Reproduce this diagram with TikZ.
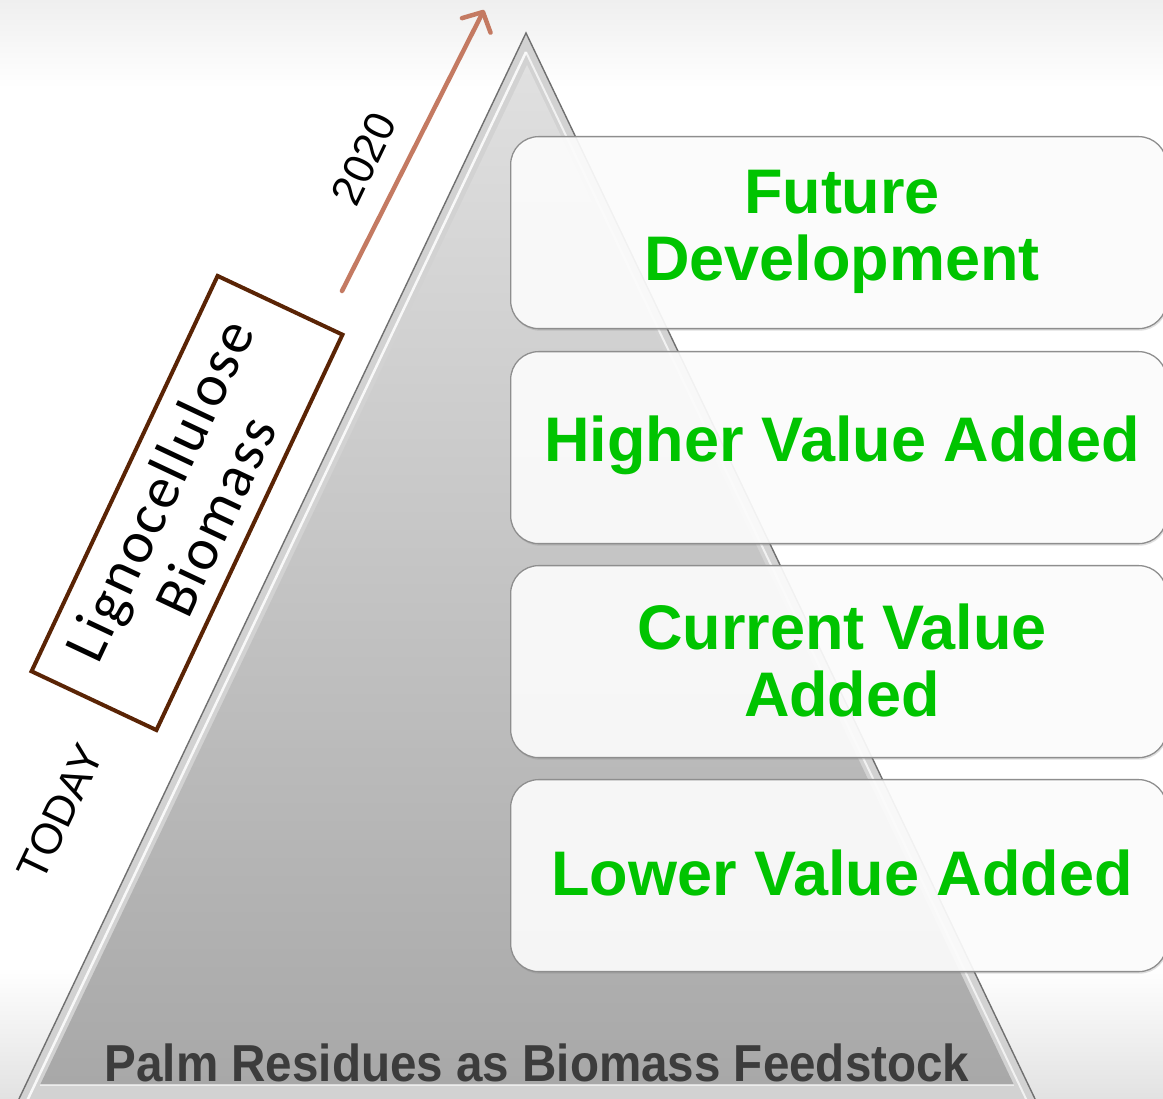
\documentclass[tikz,border=0pt]{standalone}
\usepackage{fontspec}
\setmainfont{Liberation Sans}
\newfontfamily\calibfont{Carlito}[LetterSpace=4]
\usetikzlibrary{arrows.meta,shadows}
\definecolor{bgtop}{HTML}{EFEFEF}
\definecolor{bgbot}{HTML}{E2E2E2}
\definecolor{pyrout}{HTML}{D2D2D2}
\definecolor{pyredge}{HTML}{707070}
\definecolor{pyrtop}{HTML}{E0E0E0}
\definecolor{pyrbot}{HTML}{A8A8A8}
\definecolor{boxedge}{HTML}{8E8E8E}
\definecolor{greentxt}{HTML}{00C400}
\definecolor{basetxt}{HTML}{3C3C3C}
\definecolor{ligbrown}{RGB}{90,36,5}
\definecolor{arrowcol}{RGB}{196,122,98}
\pgfdeclareverticalshading{bgshade}{100bp}{color(0bp)=(bgbot); color(25bp)=(bgbot); color(31bp)=(white); color(71bp)=(white); color(75bp)=(bgtop); color(100bp)=(bgtop)}
\tikzset{
  valbox/.style={rounded corners=28pt, fill=white, fill opacity=0.9, draw=boxedge, line width=1.3pt,
    minimum width=656pt, minimum height=192pt, anchor=north west, inner sep=0pt,
    drop shadow={shadow xshift=1pt, shadow yshift=-2pt, opacity=0.25}},
  valtxt/.style={text=greentxt, align=center, font=\bfseries\fontsize{63}{67}\selectfont, inner sep=0pt},
  ligbox/.style={draw=ligbrown, line width=4pt, fill=white, minimum width=437pt, minimum height=138pt,
    rotate=64.8, align=center, inner sep=0pt, font=\calibfont\fontsize{59}{62}\selectfont},
  sidetxt/.style={rotate=64.5, inner sep=0pt, font=\fontsize{43}{43}\selectfont},
  timearrow/.style={draw=arrowcol, line width=4.5pt, line cap=round,
    -{Straight Barb[length=15pt,width=32pt,line width=4.5pt,round]}},
  basetext/.style={text=basetxt, font=\bfseries\fontsize{52}{52}\selectfont, inner sep=0pt, xscale=0.915, anchor=base}
}
\begin{document}
\begin{tikzpicture}[x=1pt,y=1pt]
\useasboundingbox (0,0) rectangle (1163,1099);
\clip (0,0) rectangle (1163,1099);
% background
\shade[shading=bgshade] (0,0) rectangle (1163,1099);
% pyramid
\filldraw[fill=pyrout, draw=pyredge, line width=1.4pt] (18,-2) -- (526,1066) -- (1036,-2) -- cycle;
\draw[white, line width=2.5pt, opacity=0.85] (27,-2) -- (526,1047);
\draw[white, line width=2pt, opacity=0.7] (526,1047) -- (1027,-2);
\shade[top color=pyrtop, bottom color=pyrbot] (40,14) -- (527,1034) -- (1014,14) -- cycle;
\draw[white, line width=1.5pt, opacity=0.6] (40,14) -- (1014,14);
% value boxes
\node[valbox] (b1) at (510,963) {};
\node[valbox] (b2) at (510,748) {};
\node[valbox] (b3) at (510,534) {};
\node[valbox] (b4) at (510,320) {};
% value texts
\node[valtxt] (t1) at (842,867) {Future\\Development};
\node[valtxt] (t2) at (842,654) {Higher Value Added};
\node[valtxt] (t3) at (842,439) {Current Value\\Added};
\node[valtxt] (t4) at (842,226) {Lower Value Added};
% base label
\node[basetext] (bt) at (537,17) {Palm Residues as Biomass Feedstock};
% left side
\node[ligbox] (lig) at (187,596) {Lignocellulose\\Biomass};
\node[sidetxt] (today) at (60,287) {TODAY};
\node[sidetxt] (yr) at (364,940) {2020};
\coordinate (atail) at (342,808);
\coordinate (ahead) at (484,1089);
\draw[timearrow] (atail) -- (ahead);
\end{tikzpicture}
\end{document}
